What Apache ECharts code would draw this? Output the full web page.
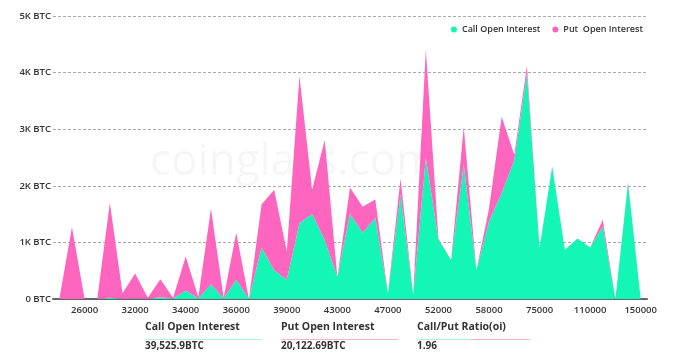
<!DOCTYPE html>
<html>
<head>
<meta charset="utf-8">
<script src="https://cdn.jsdelivr.net/npm/echarts@6/dist/echarts.min.js"></script>
<style>
html,body{margin:0;padding:0;background:#fff;}
#c{width:680px;height:354px;}
</style>
</head>
<body>
<div id="c"></div>
<script>
const strikes = ['20000','25000','26000','28000','30000','31000','32000','32500','33000','33500','34000','34500','35000','35500','36000','36500','37000','38000','39000','40000','41000','42000','43000','44000','45000','46000','47000','48000','49000','50000','52000','54000','55000','56000','58000','60000','65000','70000','75000','80000','90000','100000','110000','120000','130000','140000','150000'];
const callOI = [0,0,0,0,20,0,10,0,30,10,150,10,260,10,340,0,910,510,340,1340,1500,1040,390,1500,1170,1430,100,1840,70,2490,1050,690,2370,510,1370,1870,2450,3990,900,2340,870,1070,910,1280,0,2050,0];
const putOI = [0,1270,0,0,1680,100,440,20,320,10,600,20,1340,10,830,0,760,1420,500,2600,430,1770,0,470,460,330,0,290,0,1920,20,0,670,0,230,1350,100,130,0,0,0,0,0,120,0,20,0];
const yTicks = [0,1000,2000,3000,4000,5000];
const callTotal = '39,525.9BTC';
const putTotal = '20,122.69BTC';
const ratio = '1.96';

const GREEN = '#13f6b5', PINK = '#fd65bf';
const chart = echarts.init(document.getElementById('c'), null, {renderer:'canvas'});
const FONT = 'Open Sans';
chart.setOption({
  animation:false,
  grid:{left:53,right:33,top:16,bottom:55},
  legend:{
    right:32, top:20, icon:'circle', itemWidth:6, itemHeight:6, itemGap:12,
    textStyle:{fontSize:9,color:'#333',fontFamily:FONT,fontWeight:600},
    data:['Call Open Interest','Put  Open Interest']
  },
  xAxis:{
    type:'category', data:strikes, boundaryGap:true,
    axisLine:{lineStyle:{color:'#666',width:2}},
    axisTick:{show:false},
    axisLabel:{interval:(i)=>i%4===2, fontSize:9.5, color:'#333', fontFamily:FONT, fontWeight:600, margin:6}
  },
  yAxis:{
    type:'value', min:yTicks[0], max:yTicks[yTicks.length-1], interval:1000,
    axisLine:{show:false}, axisTick:{show:false},
    axisLabel:{formatter:(v)=>v===0?'0 BTC':(v/1000)+'K BTC', fontSize:9.5, color:'#333', fontFamily:FONT, fontWeight:600, margin:2},
    splitLine:{lineStyle:{type:[3,2],color:'#aaa',width:1}}
  },
  graphic:[
    {type:'text', left:150, top:140, z:-1, silent:true, style:{text:'coinglass.com', font:'44px "Open Sans"', fill:'rgba(0,0,0,0.035)'}},
    {type:'text', left:145, top:322, style:{text:'Call Open Interest', font:'bold 10.5px "Open Sans"', fill:'#333'}},
    {type:'rect', shape:{x:145,y:339,width:117,height:1}, style:{fill:'#b8f2cf'}},
    {type:'text', left:145, top:341, style:{text:callTotal, font:'bold 10px "Open Sans"', fill:'#333'}},
    {type:'text', left:281, top:322, style:{text:'Put Open Interest', font:'bold 10.5px "Open Sans"', fill:'#333'}},
    {type:'rect', shape:{x:281,y:339,width:117,height:1}, style:{fill:'#f5b8c4'}},
    {type:'text', left:281, top:341, style:{text:putTotal, font:'bold 10px "Open Sans"', fill:'#333'}},
    {type:'text', left:417, top:322, style:{text:'Call/Put Ratio(oi)', font:'bold 10.5px "Open Sans"', fill:'#333'}},
    {type:'rect', shape:{x:417,y:339,width:53,height:1}, style:{fill:'#b8f2cf'}},
    {type:'rect', shape:{x:470,y:339,width:60,height:1}, style:{fill:'#f5b8c4'}},
    {type:'text', left:417, top:341, style:{text:ratio, font:'bold 10px "Open Sans"', fill:'#333'}}
  ],
  series:[
    {name:'Call Open Interest', type:'line', stack:'oi', data:callOI, showSymbol:false, symbol:'none',
     itemStyle:{color:GREEN}, lineStyle:{width:0}, areaStyle:{color:GREEN,opacity:1}},
    {name:'Put  Open Interest', type:'line', stack:'oi', data:putOI, showSymbol:false, symbol:'none',
     itemStyle:{color:PINK}, lineStyle:{width:0}, areaStyle:{color:PINK,opacity:1}}
  ]
});
</script>
</body>
</html>
